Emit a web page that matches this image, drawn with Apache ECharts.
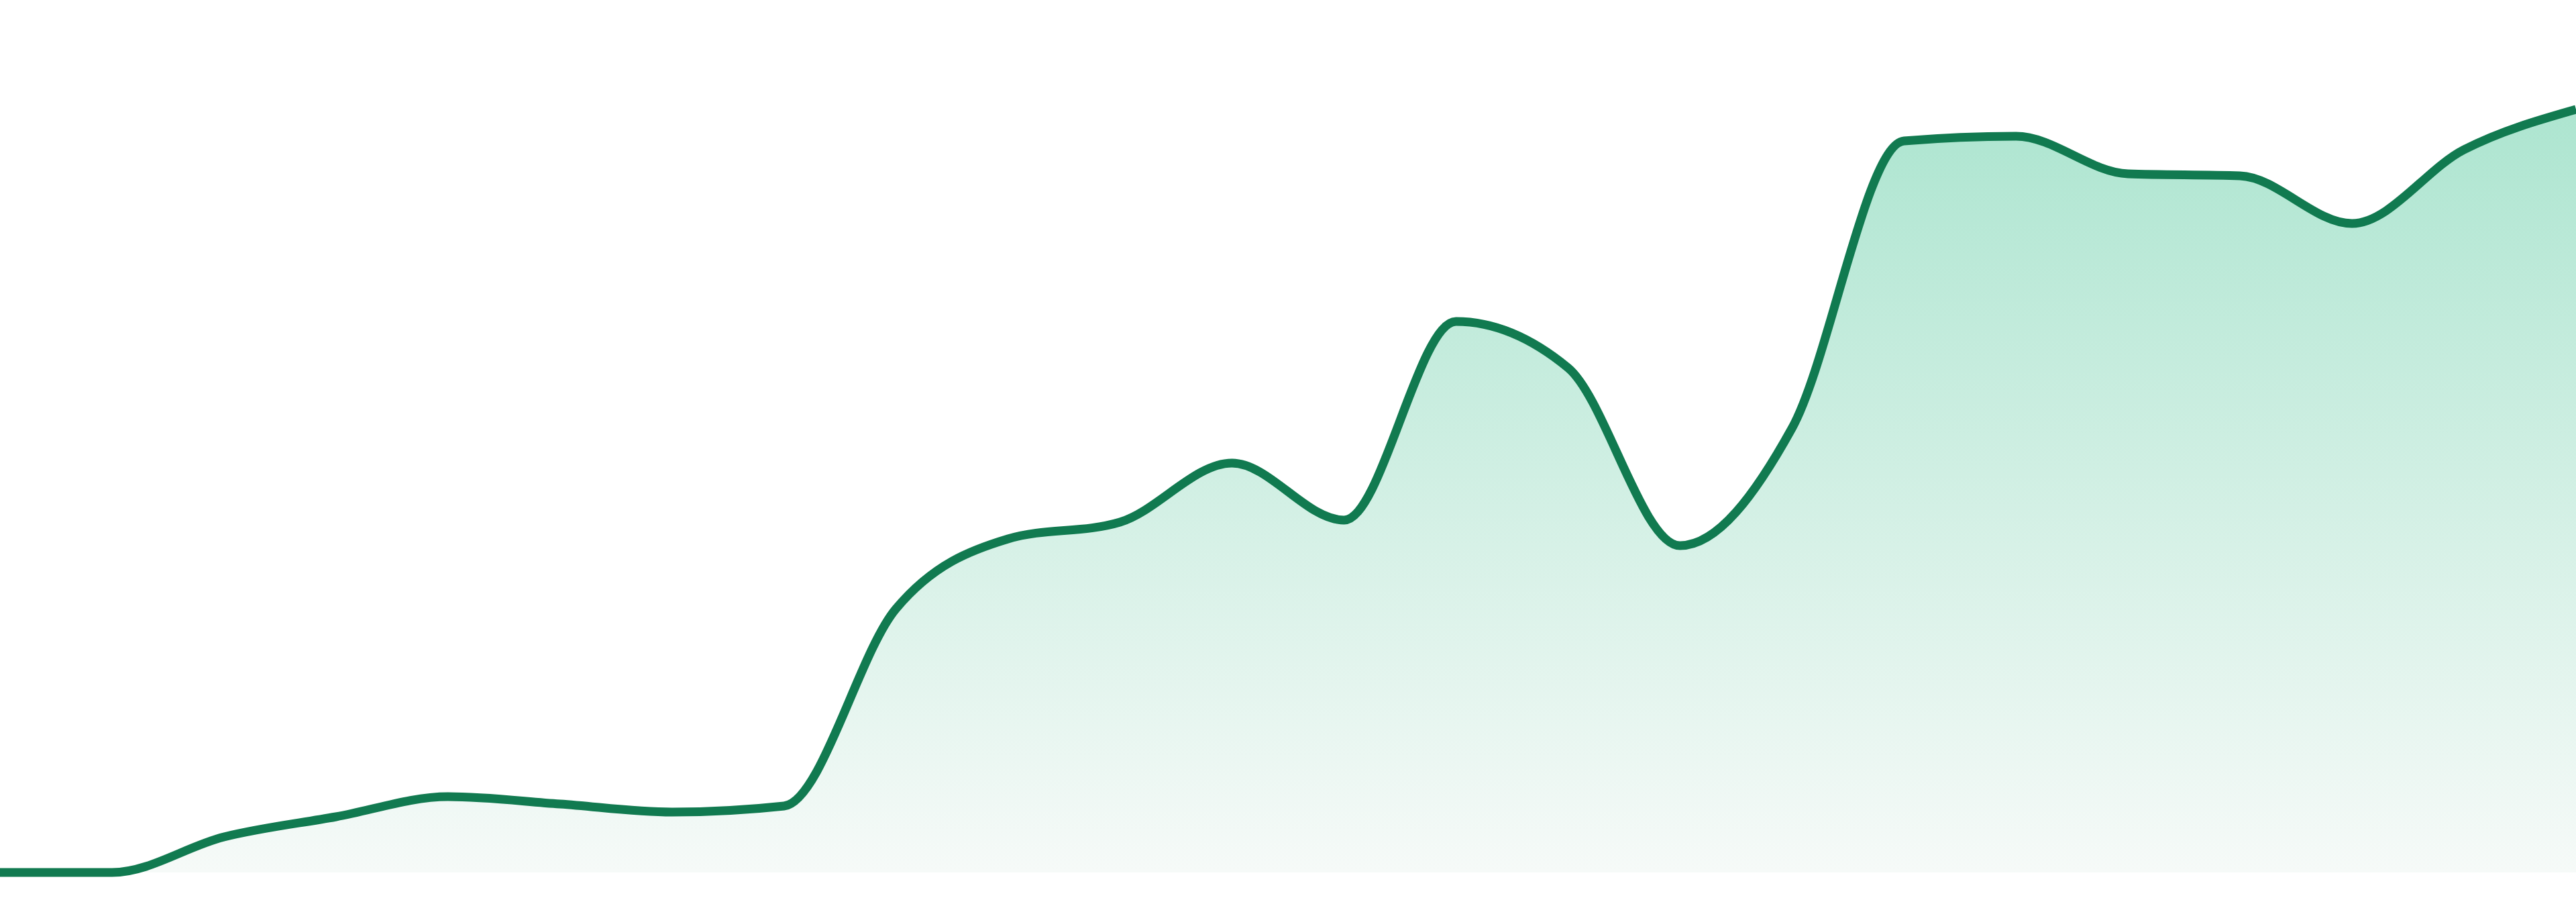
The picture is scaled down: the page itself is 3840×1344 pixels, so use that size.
<!DOCTYPE html>
<html>
<head>
<meta charset="utf-8">
<style>
  html, body { margin: 0; padding: 0; background: #ffffff; }
  #chart { width: 3840px; height: 1344px; }
</style>
<script src="https://cdn.jsdelivr.net/npm/echarts@6/dist/echarts.min.js"></script>
</head>
<body>
<div id="chart"></div>
<script>
// points along the x axis, evenly spaced edge to edge
var categories = ['1', '2', '3', '4', '5', '6', '7', '8', '9', '10', '11', '12',
  '13', '14', '15', '16', '17', '18', '19', '20', '21', '22', '23', '24'];

// (axis runs 0..120)
var values = [0, 0, 5.3, 8.3, 11.3, 10.2, 9.0, 9.9, 39.3, 49.7, 52.2, 61.0,
  52.5, 82.1, 75.2, 48.7, 66.2, 109.0, 109.7, 104.1, 103.8, 96.7, 107.7, 113.7];

var lineColor = '#117a50';

// monotone cubic (like d3 curveMonotoneX) through pixel points
function monotoneSegments(pts) {
  var n = pts.length;
  var h = [], s = [], t = [];
  var i;
  for (i = 0; i < n - 1; i++) {
    h[i] = pts[i + 1][0] - pts[i][0];
    s[i] = (pts[i + 1][1] - pts[i][1]) / h[i];
  }
  for (i = 1; i < n - 1; i++) {
    var p = (s[i - 1] * h[i] + s[i] * h[i - 1]) / (h[i - 1] + h[i]);
    t[i] = (Math.sign(s[i - 1]) + Math.sign(s[i])) *
      Math.min(Math.abs(s[i - 1]), Math.abs(s[i]), 0.5 * Math.abs(p)) || 0;
  }
  t[0] = (3 * s[0] - t[1]) / 2;
  t[n - 1] = (3 * s[n - 2] - t[n - 2]) / 2;

  var d = 'M' + pts[0][0] + ' ' + pts[0][1];
  for (i = 0; i < n - 1; i++) {
    var dx = h[i] / 3;
    d += ' C' + (pts[i][0] + dx) + ' ' + (pts[i][1] + dx * t[i]) +
      ' ' + (pts[i + 1][0] - dx) + ' ' + (pts[i + 1][1] - dx * t[i + 1]) +
      ' ' + pts[i + 1][0] + ' ' + pts[i + 1][1];
  }
  return d;
}

function renderArea(params, api) {
  if (params.dataIndex !== 0) return null;
  var pts = values.map(function (v, i) { return api.coord([i, v]); });
  var base = api.coord([0, 0])[1];
  var lineD = monotoneSegments(pts);
  var last = pts[pts.length - 1];
  var fillD = lineD + ' L' + last[0] + ' ' + base + ' L' + pts[0][0] + ' ' + base + ' Z';
  return {
    type: 'group',
    children: [{
      type: 'path',
      shape: { pathData: fillD },
      style: {
        fill: new echarts.graphic.LinearGradient(0, 0, 0, 1, [
          { offset: 0, color: '#ade5d0' },
          { offset: 1, color: '#f6faf8' }
        ])
      }
    }, {
      type: 'path',
      shape: { pathData: lineD },
      style: {
        fill: 'none',
        stroke: lineColor,
        lineWidth: 13,
        lineJoin: 'round',
        lineCap: 'butt'
      }
    }]
  };
}

var chart = echarts.init(document.getElementById('chart'));

chart.setOption({
  backgroundColor: '#ffffff',
  animation: false,
  grid: {
    left: 0,
    right: 0,
    top: 100,
    bottom: 44
  },
  xAxis: {
    type: 'category',
    data: categories,
    boundaryGap: false,
    show: false
  },
  yAxis: {
    type: 'value',
    min: 0,
    max: 120,
    show: false
  },
  series: [{
    type: 'custom',
    clip: false,
    renderItem: renderArea,
    encode: { x: 0, y: 1 },
    data: values.map(function (v, i) { return [i, v]; })
  }]
});
</script>
</body>
</html>
